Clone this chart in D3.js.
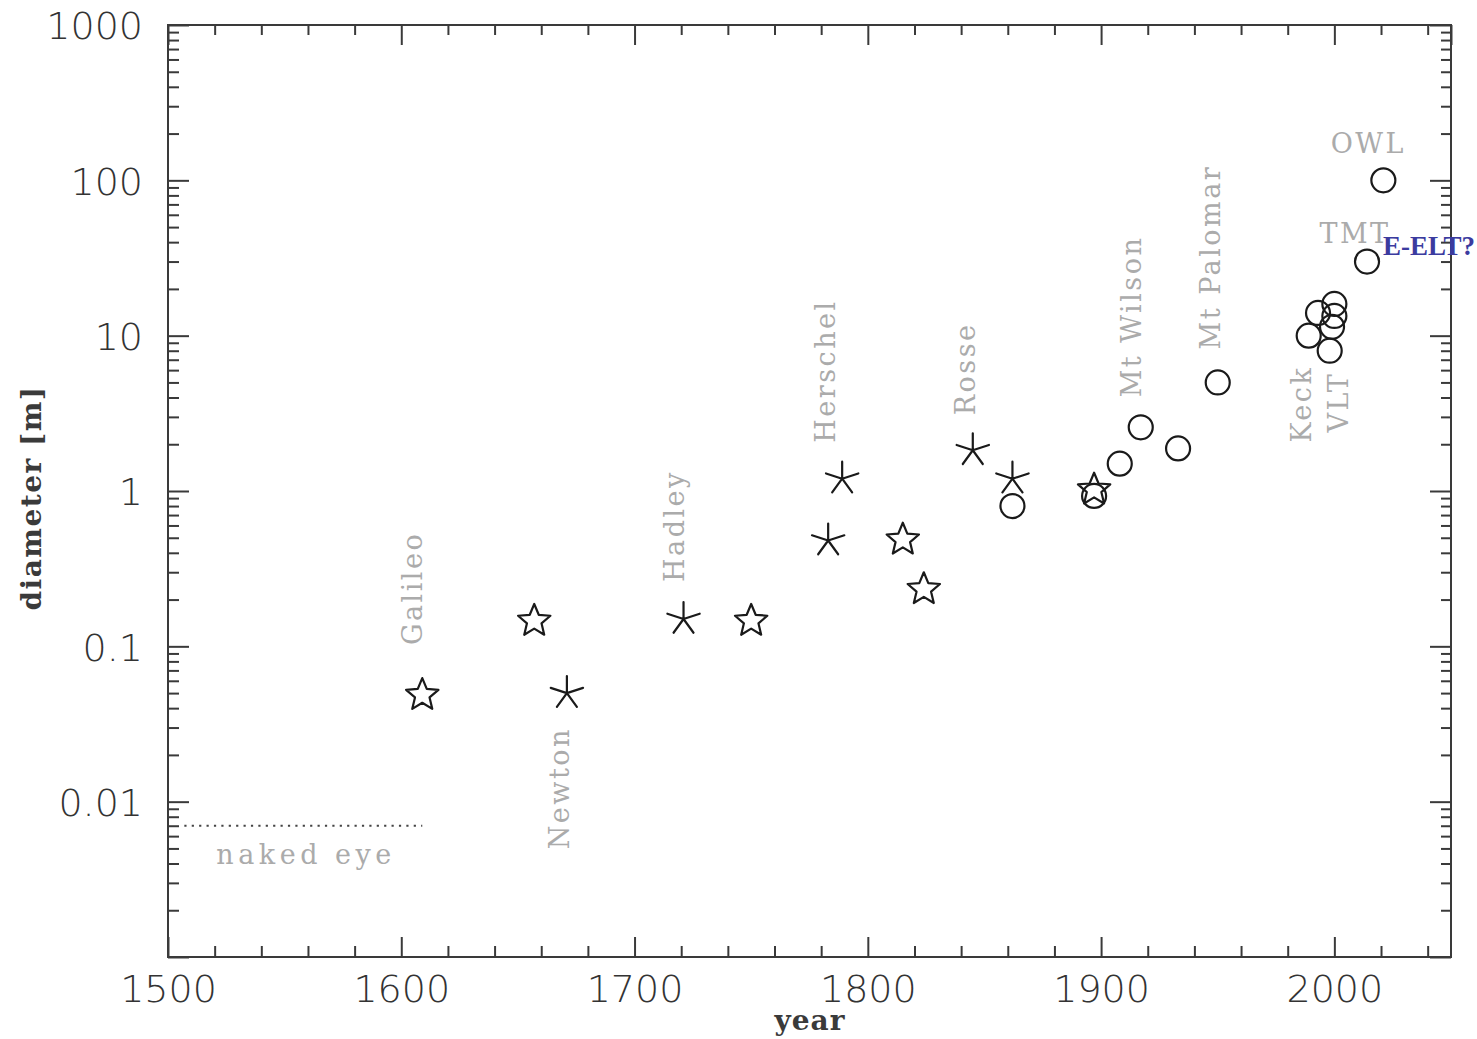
<!DOCTYPE html>
<html>
<head>
<meta charset="utf-8">
<script src="https://cdn.jsdelivr.net/npm/d3@7"></script>
<style>
  html, body { margin: 0; padding: 0; background: #fff; }
  svg { display: block; }
</style>
</head>
<body>
<svg id="chart" width="1477" height="1039"></svg>
<script>
// Telescope apertures through history: year of first light vs. diameter (m)

// Refractors (open stars)
const refractorYears = [1609, 1657, 1750, 1815, 1824, 1897];
const refractorDiam  = [0.05, 0.15, 0.15, 0.5, 0.24, 1.05];

// Metal-mirror reflectors (asterisks)
const speculumYears = [1671, 1721, 1783, 1789, 1845, 1862];
const speculumDiam  = [0.05, 0.15, 0.48, 1.2, 1.83, 1.2];

// Glass-mirror reflectors (circles)
const glassYears = [1862, 1897, 1908, 1917, 1933, 1950, 1989, 1993, 2000, 2000, 1999, 1998, 2014, 2021];
const glassDiam  = [0.8, 0.93, 1.5, 2.57, 1.88, 5.0, 10, 14, 16, 13.4, 11.4, 8, 30, 100];

// Named instruments
const labelNames = ["Galileo", "Newton", "Hadley", "Herschel", "Rosse", "Mt Wilson", "Mt Palomar", "Keck", "VLT", "TMT", "OWL"];
const labelYears = [1609, 1671, 1721, 1789, 1845, 1917, 1950, 1989, 1998, 2014, 2021];
const labelDiam  = [0.05, 0.05, 0.15, 1.2, 1.83, 2.57, 5.0, 10, 8, 30, 100];

// Naked-eye pupil reference
const nakedEyeYears = [1507, 1609];
const nakedEyeDiam = 0.007;

// Axis ticks
const xMajorTicks = [1500, 1600, 1700, 1800, 1900, 2000];
const xTickLabels = ["1500", "1600", "1700", "1800", "1900", "2000"];
const yMajorTicks = [0.001, 0.01, 0.1, 1, 10, 100, 1000];
const yTickLabels = ["", "0.01", "0.1", "1", "10", "100", "1000"];

const svg = d3.select("#chart");
const L = 168, R = 1451, T = 25, B = 957;

const x = d3.scaleLinear().domain([1500, 2050]).range([L, R]);
const y = d3.scaleLog().domain([0.001, 1000]).range([B, T]);

const axisColor = "#3a3a3a";
const xMinor = d3.range(1500, 2051, 20).filter(v => v % 100 !== 0);
const yMinor = [];
for (let e = -3; e < 3; e++) for (let m = 2; m <= 9; m++) yMinor.push(m * Math.pow(10, e));

function styleAxis(g) {
  g.select(".domain").remove();
  g.selectAll(".tick line").attr("stroke", axisColor).attr("stroke-width", 2);
}
function styleTickText(g) {
  g.selectAll("text")
    .attr("font-family", "DejaVu Sans").attr("font-weight", 300)
    .attr("font-size", 38).attr("fill", "#333");
}

// Bottom axis
svg.append("g").attr("transform", `translate(0,${B})`)
  .call(d3.axisBottom(x).tickValues(xMinor).tickSize(-11).tickFormat(""))
  .call(styleAxis);
svg.append("g").attr("transform", `translate(0,${B})`)
  .call(d3.axisBottom(x).tickValues(xMajorTicks).tickSize(-20).tickPadding(18)
    .tickFormat((d, i) => xTickLabels[i]))
  .call(styleAxis)
  .call(styleTickText);

// Top axis (mirrored ticks)
svg.append("g").attr("transform", `translate(0,${T})`)
  .call(d3.axisTop(x).tickValues(xMinor).tickSize(-10).tickFormat(""))
  .call(styleAxis);
svg.append("g").attr("transform", `translate(0,${T})`)
  .call(d3.axisTop(x).tickValues(xMajorTicks.concat([2050])).tickSize(-20).tickFormat(""))
  .call(styleAxis);

// Left axis
svg.append("g").attr("transform", `translate(${L},0)`)
  .call(d3.axisLeft(y).tickValues(yMinor).tickSize(-11).tickFormat(""))
  .call(styleAxis);
svg.append("g").attr("transform", `translate(${L},0)`)
  .call(d3.axisLeft(y).tickValues(yMajorTicks).tickSize(-21).tickPadding(25)
    .tickFormat((d, i) => yTickLabels[i]))
  .call(styleAxis)
  .call(styleTickText)
  .call(g => g.selectAll("text").attr("dy", "0.36em"));

// Right axis (mirrored ticks)
svg.append("g").attr("transform", `translate(${R},0)`)
  .call(d3.axisRight(y).tickValues(yMinor).tickSize(-10).tickFormat(""))
  .call(styleAxis);
svg.append("g").attr("transform", `translate(${R},0)`)
  .call(d3.axisRight(y).tickValues(yMajorTicks).tickSize(-21).tickFormat(""))
  .call(styleAxis);

// Frame
svg.append("rect").attr("x", L).attr("y", T).attr("width", R - L).attr("height", B - T)
  .attr("fill", "none").attr("stroke", axisColor).attr("stroke-width", 2);

// Axis titles
svg.append("text").attr("x", 810).attr("y", 1030).attr("text-anchor", "middle")
  .attr("font-family", "DejaVu Serif").attr("font-weight", "bold").attr("font-size", 28)
  .attr("letter-spacing", 1).attr("fill", "#3a3a3a").text("year");
svg.append("text").attr("transform", "translate(41,498) rotate(-90)").attr("text-anchor", "middle")
  .attr("font-family", "DejaVu Serif").attr("font-weight", "bold").attr("font-size", 28)
  .attr("letter-spacing", 1.5).attr("fill", "#3a3a3a").text("diameter [m]");

// Naked-eye line and label
svg.append("line")
  .attr("x1", x(nakedEyeYears[0])).attr("x2", x(nakedEyeYears[1]))
  .attr("y1", y(nakedEyeDiam)).attr("y2", y(nakedEyeDiam))
  .attr("stroke", "#444").attr("stroke-width", 2.2).attr("stroke-dasharray", "2.2,5.2");
svg.append("text").attr("x", x(nakedEyeYears[0]) + 32).attr("y", y(nakedEyeDiam) + 38)
  .attr("font-family", "DejaVu Serif").attr("font-size", 27).attr("letter-spacing", 4.5)
  .attr("fill", "#ababab").text("naked eye");

// Marker shapes
const RS = 17;
function starPath(r) {
  const pts = [];
  for (let k = 0; k < 10; k++) {
    const a = -Math.PI / 2 + k * Math.PI / 5;
    const rr = k % 2 === 0 ? r : r * 0.45;
    pts.push([rr * Math.cos(a), rr * Math.sin(a)]);
  }
  return "M" + pts.map(p => p.join(",")).join("L") + "Z";
}
function asteriskPath(r) {
  let p = "";
  for (let k = 0; k < 5; k++) {
    const a = -Math.PI / 2 + k * 2 * Math.PI / 5;
    p += `M0,0L${r * Math.cos(a)},${r * Math.sin(a)}`;
  }
  return p;
}
const markColor = "#1a1a1a";

// Glass reflectors
svg.append("g").selectAll("circle").data(glassYears).join("circle")
  .attr("cx", d => x(d)).attr("cy", (d, i) => y(glassDiam[i])).attr("r", 12)
  .attr("fill", "none").attr("stroke", markColor).attr("stroke-width", 2.2);

// Refractors
svg.append("g").selectAll("path").data(refractorYears).join("path")
  .attr("transform", (d, i) => `translate(${x(d)},${y(refractorDiam[i]) + 2})`)
  .attr("d", starPath(RS))
  .attr("fill", "none").attr("stroke", markColor).attr("stroke-width", 2.2).attr("stroke-linejoin", "round");

// Speculum reflectors
svg.append("g").selectAll("path").data(speculumYears).join("path")
  .attr("transform", (d, i) => `translate(${x(d)},${y(speculumDiam[i])})`)
  .attr("d", asteriskPath(RS))
  .attr("fill", "none").attr("stroke", markColor).attr("stroke-width", 2.2).attr("stroke-linecap", "round");

// Instrument labels: offsets from the marker, rotation and anchor
const labelPlacement = {
  "Galileo":    { dx: 0,   dy: -48, rot: -90, anchor: "start" },
  "Newton":     { dx: 2,   dy: 34,  rot: -90, anchor: "end" },
  "Hadley":     { dx: 0,   dy: -37, rot: -90, anchor: "start" },
  "Herschel":   { dx: -7,  dy: -36, rot: -90, anchor: "start" },
  "Rosse":      { dx: 2,   dy: -35, rot: -90, anchor: "start" },
  "Mt Wilson":  { dx: 0,   dy: -30, rot: -90, anchor: "start" },
  "Mt Palomar": { dx: 2,   dy: -33, rot: -90, anchor: "start" },
  "Keck":       { dx: 2,   dy: 30,  rot: -90, anchor: "end" },
  "VLT":        { dx: 18,  dy: 21,  rot: -90, anchor: "end" },
  "TMT":        { dx: -12, dy: -19, rot: 0,   anchor: "middle" },
  "OWL":        { dx: -15, dy: -27, rot: 0,   anchor: "middle" }
};
svg.append("g").selectAll("text").data(labelNames).join("text")
  .attr("transform", (d, i) => {
    const p = labelPlacement[d];
    return `translate(${x(labelYears[i]) + p.dx},${y(labelDiam[i]) + p.dy}) rotate(${p.rot})`;
  })
  .attr("text-anchor", d => labelPlacement[d].anchor)
  .attr("font-family", "DejaVu Serif").attr("font-size", 27).attr("letter-spacing", 2.5)
  .attr("fill", "#ababab").text(d => d);

// E-ELT annotation next to TMT
svg.append("text").attr("x", x(2014) + 16).attr("y", y(30) - 7)
  .attr("font-family", "Liberation Serif").attr("font-weight", "bold").attr("font-size", 27)
  .attr("fill", "#3b3b9f").text("E-ELT?");
</script>
</body>
</html>
